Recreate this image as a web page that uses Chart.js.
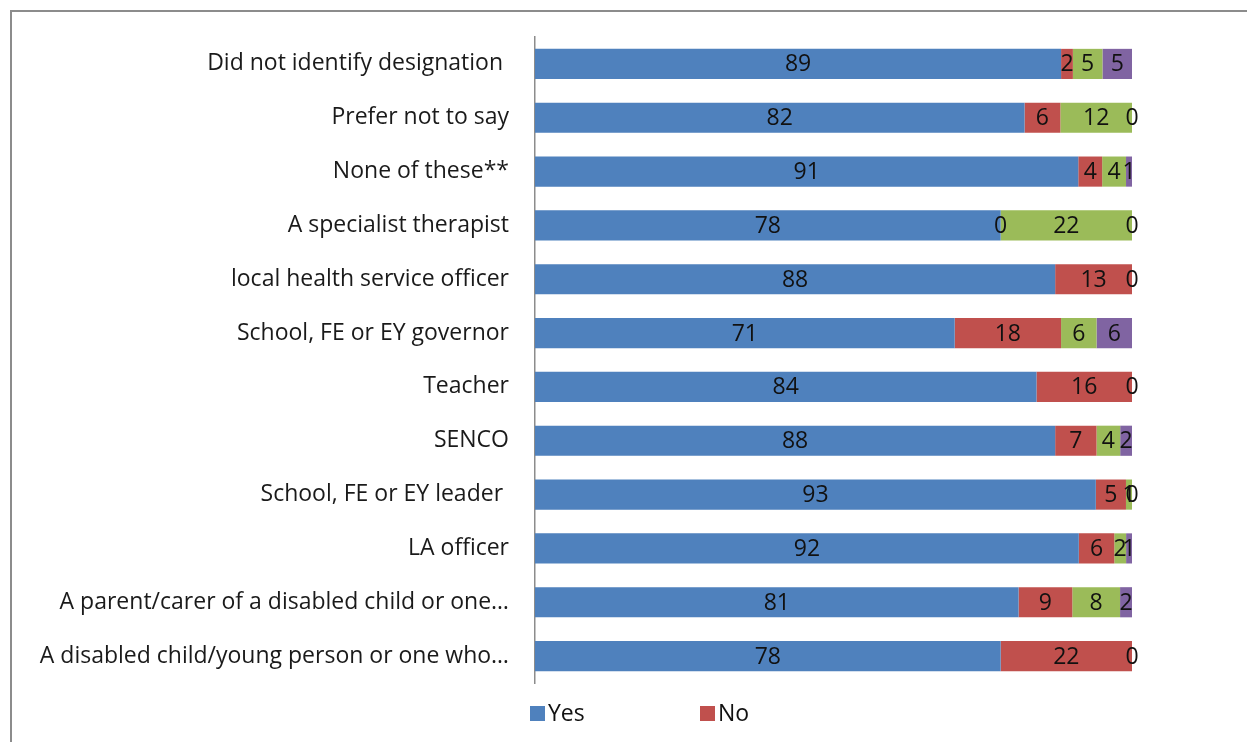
<!DOCTYPE html>
<html>
<head>
<meta charset="utf-8">
<script src="https://cdn.jsdelivr.net/npm/chart.js@4/dist/chart.umd.min.js"></script>
<style>
  html, body { margin: 0; padding: 0; background: #fff; overflow: hidden; }
  #frame { position: absolute; left: 10px; top: 10px; width: 1400px; height: 900px; border: 2px solid #8c8c8c; }
  #wrap { position: absolute; left: 0; top: 0; width: 1247px; height: 742px; }
</style>
</head>
<body>
<div id="frame"></div>
<div id="wrap"><canvas id="chart"></canvas></div>
<script>
// ─── DATA ─────────────────────────────────────────────────────────────
const categories = [
    'Did not identify designation ',
    'Prefer not to say',
    'None of these**',
    'A specialist therapist',
    'local health service officer',
    'School, FE or EY governor',
    'Teacher',
    'SENCO',
    'School, FE or EY leader ',
    'LA officer',
    'A parent/carer of a disabled child or one…',
    'A disabled child/young person or one who…'
];
const seriesNames  = ['Yes', 'No', 'Series 3', 'Series 4'];
const yesValues    = [89, 82, 91, 78, 88, 71, 84, 88, 93, 92, 81, 78];
const noValues     = [ 2,  6,  4,  0, 13, 18, 16,  7,  5,  6,  9, 22];
const greenValues  = [ 5, 12,  4, 22,  0,  6,  0,  4,  1,  2,  8,  0];
const purpleValues = [ 5,  0,  1,  0, null, 6, null, 2, 0, 1, 2, null];
const legendShown  = ['Yes', 'No'];

const COLORS = ['#4F81BD', '#C0504D', '#9BBB59', '#8064A2'];
const FONT = '"Open Sans", "Liberation Sans", sans-serif';
const FS = 23;

// 100% stacked: each row scaled to its own total, labels keep the raw values
const allSeries = [yesValues, noValues, greenValues, purpleValues];
const rowTotals = categories.map((_, i) => allSeries.reduce((s, arr) => s + (arr[i] || 0), 0));
const toPct = arr => arr.map((v, i) => v === null ? null : v / rowTotals[i] * 100);

// ─── PLUGINS ──────────────────────────────────────────────────────────
const valueLabels = {
    id: 'valueLabels',
    afterDatasetsDraw(chart) {
        const ctx = chart.ctx;
        ctx.save();
        ctx.font = FS + 'px ' + FONT;
        ctx.fillStyle = '#111';
        ctx.textAlign = 'center';
        ctx.textBaseline = 'middle';
        chart.data.datasets.forEach((ds, di) => {
            const meta = chart.getDatasetMeta(di);
            meta.data.forEach((bar, i) => {
                const raw = ds.rawValues[i];
                if (raw === null || raw === undefined) return;
                const p = bar.getCenterPoint();
                ctx.fillText(String(raw), p.x, p.y + 1);
            });
        });
        ctx.restore();
    }
};

const bottomLegend = {
    id: 'bottomLegend',
    afterDraw(chart) {
        const ctx = chart.ctx;
        const y = chart.chartArea.bottom + 30;
        const xs = [chart.chartArea.left - 5, chart.chartArea.left + 165];
        ctx.save();
        ctx.font = FS + 'px ' + FONT;
        ctx.textBaseline = 'middle';
        ctx.textAlign = 'left';
        legendShown.forEach((name, k) => {
            const idx = seriesNames.indexOf(name);
            ctx.fillStyle = COLORS[idx];
            ctx.fillRect(xs[k], y - 7, 15, 15);
            ctx.fillStyle = '#111';
            ctx.fillText(name, xs[k] + 18, y + 1);
        });
        ctx.restore();
    }
};

// ─── CHART ────────────────────────────────────────────────────────────
new Chart(document.getElementById('chart'), {
    type: 'bar',
    data: {
        labels: categories,
        datasets: allSeries.map((arr, k) => ({
            label: seriesNames[k],
            data: toPct(arr),
            rawValues: arr,
            backgroundColor: COLORS[k],
            borderWidth: 0,
            categoryPercentage: 1,
            barPercentage: 0.56
        }))
    },
    options: {
        indexAxis: 'y',
        responsive: true,
        maintainAspectRatio: false,
        animation: false,
        layout: { padding: { top: 37, right: 115, bottom: 59, left: 0 } },
        plugins: {
            legend: { display: false },
            tooltip: { enabled: false }
        },
        scales: {
            x: {
                stacked: true,
                min: 0,
                max: 100,
                display: false
            },
            y: {
                stacked: true,
                grid: { display: false },
                border: { display: true, color: '#8c8c8c', width: 1.5 },
                ticks: { color: '#1a1a1a', padding: 18, font: { family: FONT, size: FS } },
                afterFit: s => { s.width = 535; }
            }
        }
    },
    plugins: [valueLabels, bottomLegend]
});
</script>
</body>
</html>
